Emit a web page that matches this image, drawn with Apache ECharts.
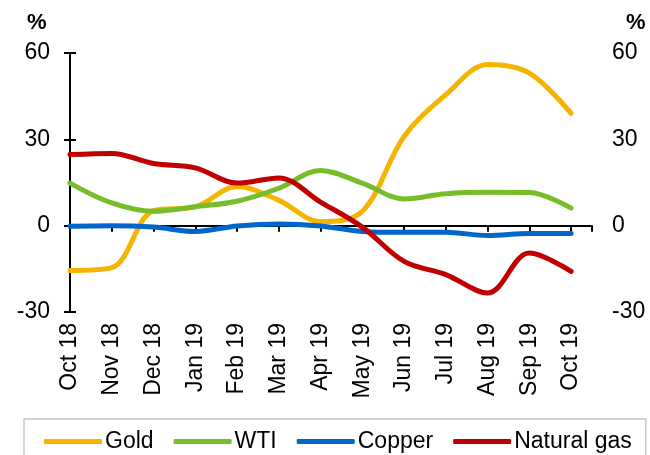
<!DOCTYPE html>
<html>
<head>
    <meta charset="utf-8">
    <title>Commodities</title>
    <script src="https://cdn.jsdelivr.net/npm/echarts@6/dist/echarts.min.js"></script>
    <style>
        html, body { margin: 0; padding: 0; background: #fff; }
        #chart { width: 650px; height: 455px; }
    </style>
</head>
<body>
    <div id="chart"></div>
    <script type="text/javascript">
        // data (%, y/y)
        var months = ['Oct 18', 'Nov 18', 'Dec 18', 'Jan 19', 'Feb 19', 'Mar 19', 'Apr 19',
                      'May 19', 'Jun 19', 'Jul 19', 'Aug 19', 'Sep 19', 'Oct 19'];
        var gold       = [-15.6, -14.6, 5.2, 6.5, 13.6, 8.8, 1.4, 5.0, 31.0, 45.5, 56.0, 53.0, 39.0];
        var wti        = [14.8, 7.9, 5.0, 6.6, 8.5, 13.0, 19.2, 14.8, 9.3, 11.1, 11.6, 11.5, 6.1];
        var copper     = [-0.2, 0.0, -0.5, -2.0, -0.1, 0.6, -0.1, -2.0, -2.3, -2.3, -3.4, -2.7, -2.7];
        var natGas     = [24.7, 25.1, 21.6, 20.1, 14.8, 16.6, 8.2, -0.5, -12.4, -17.0, -23.4, -9.5, -15.9];
        var yTicks     = { min: -30, max: 60, step: 30 };

        function pairs(arr) {
            return arr.map(function (v, i) { return [i, v]; });
        }

        var font = 'Liberation Sans, Arial, sans-serif';
        var chart = echarts.init(document.getElementById('chart'));

        function line(name, color, values) {
            return {
                name: name,
                type: 'line',
                xAxisIndex: 0,
                yAxisIndex: 0,
                data: pairs(values),
                smooth: 0.35,
                symbol: 'none',
                lineStyle: { color: color, width: 5, cap: 'round' },
                itemStyle: { color: color },
                emphasis: { disabled: true }
            };
        }

        var yAxisBase = {
            type: 'value',
            min: yTicks.min,
            max: yTicks.max,
            interval: yTicks.step,
            splitLine: { show: false },
            axisLine: { show: true, lineStyle: { color: '#000', width: 2 } },
            axisTick: { show: true, length: 6, lineStyle: { color: '#000', width: 2 } },
            axisLabel: { color: '#000', fontSize: 23, fontFamily: font, margin: 20 }
        };

        var option = {
            animation: false,
            grid: { left: 70, right: 58, top: 53, bottom: 143, containLabel: false },
            graphic: [
                { type: 'text', left: 27, top: 12, style: { text: '%', font: 'bold 22px ' + font, fill: '#000' } },
                { type: 'text', left: 626, top: 12, style: { text: '%', font: 'bold 22px ' + font, fill: '#000' } }
            ],
            legend: {
                left: 24,
                top: 419,
                padding: [11, 14, 20, 20],
                itemGap: 20,
                itemWidth: 58,
                itemHeight: 5,
                icon: 'roundRect',
                borderColor: '#c8c8c8',
                borderWidth: 1.5,
                textStyle: { color: '#000', fontSize: 23, fontFamily: font, padding: [0, 0, 0, -2] },
                data: ['Gold', 'WTI', 'Copper', 'Natural gas']
            },
            xAxis: [{
                type: 'value',
                min: 0,
                max: 12.5,
                interval: 1,
                splitLine: { show: false },
                axisLine: { show: true, onZero: true, lineStyle: { color: '#000', width: 2 } },
                axisTick: { show: true, length: 6, lineStyle: { color: '#000', width: 2 } },
                axisLabel: { show: false }
            }, {
                type: 'value',
                position: 'bottom',
                min: 0,
                max: 12.5,
                interval: 1,
                splitLine: { show: false },
                axisLine: { show: false, onZero: false },
                axisTick: { show: false },
                axisLabel: {
                    rotate: 90,
                    margin: 11,
                    color: '#000',
                    fontSize: 23,
                    fontFamily: font,
                    formatter: function (v) { return months[v] || ''; }
                }
            }],
            yAxis: [
                Object.assign({}, yAxisBase, { position: 'left' }),
                Object.assign({}, yAxisBase, { position: 'right' })
            ],
            series: [
                line('Gold', '#F5B400', gold),
                line('WTI', '#77BC2A', wti),
                line('Copper', '#0066CC', copper),
                line('Natural gas', '#C00000', natGas)
            ]
        };

        chart.setOption(option);
    </script>
</body>
</html>
